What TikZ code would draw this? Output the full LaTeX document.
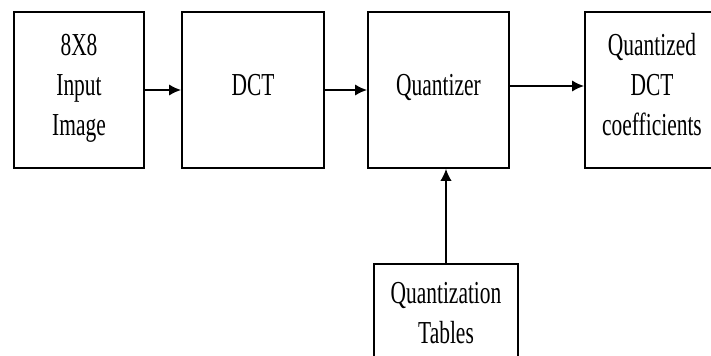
\documentclass[tikz,border=0pt]{standalone}
\usepackage{fontspec}
\usepackage{tikz}
\usetikzlibrary{calc,arrows.meta}
\newfontfamily\blockfont[FakeStretch=0.67]{Liberation Serif}

\begin{document}
\begin{tikzpicture}[x=0.75pt,y=-0.75pt,
    blk/.style={draw,line width=1.4pt,align=center,inner sep=0pt,
      font=\blockfont\fontsize{24pt}{30pt}\selectfont},
    flow/.style={-{Latex[length=9pt,width=8.5pt]},line width=1.3pt}]
                 \clip (0,0) rectangle (711,356);
                 \node[blk,text depth=8pt,minimum width=97.5pt,minimum height=117pt](img)at(79,90){8X8\\Input\\Image};
                 \node[blk,text depth=8pt,minimum width=106.5pt,minimum height=117pt](dct)at(253,90){DCT};
                 \node[blk,text depth=8pt,minimum width=105.75pt,minimum height=117pt](quant)at(438.5,90){Quantizer};
                 \node[blk,text depth=8pt,minimum width=100.5pt,minimum height=117pt](coef)at(652,90){Quantized\\DCT\\coefficients};
                 \node[blk,minimum width=108pt,minimum height=73.5pt](tab)at(446,313){Quantization\\Tables};
                 \draw[flow](img)--(dct);
                 \draw[flow](dct)--(quant);
                 \draw[flow](quant.east |- 0,86)--(coef.west |- 0,86);
                 \draw[flow,line width=0.9pt](tab.north)--(tab.north |- quant.south);
               \end{tikzpicture}
\end{document}
